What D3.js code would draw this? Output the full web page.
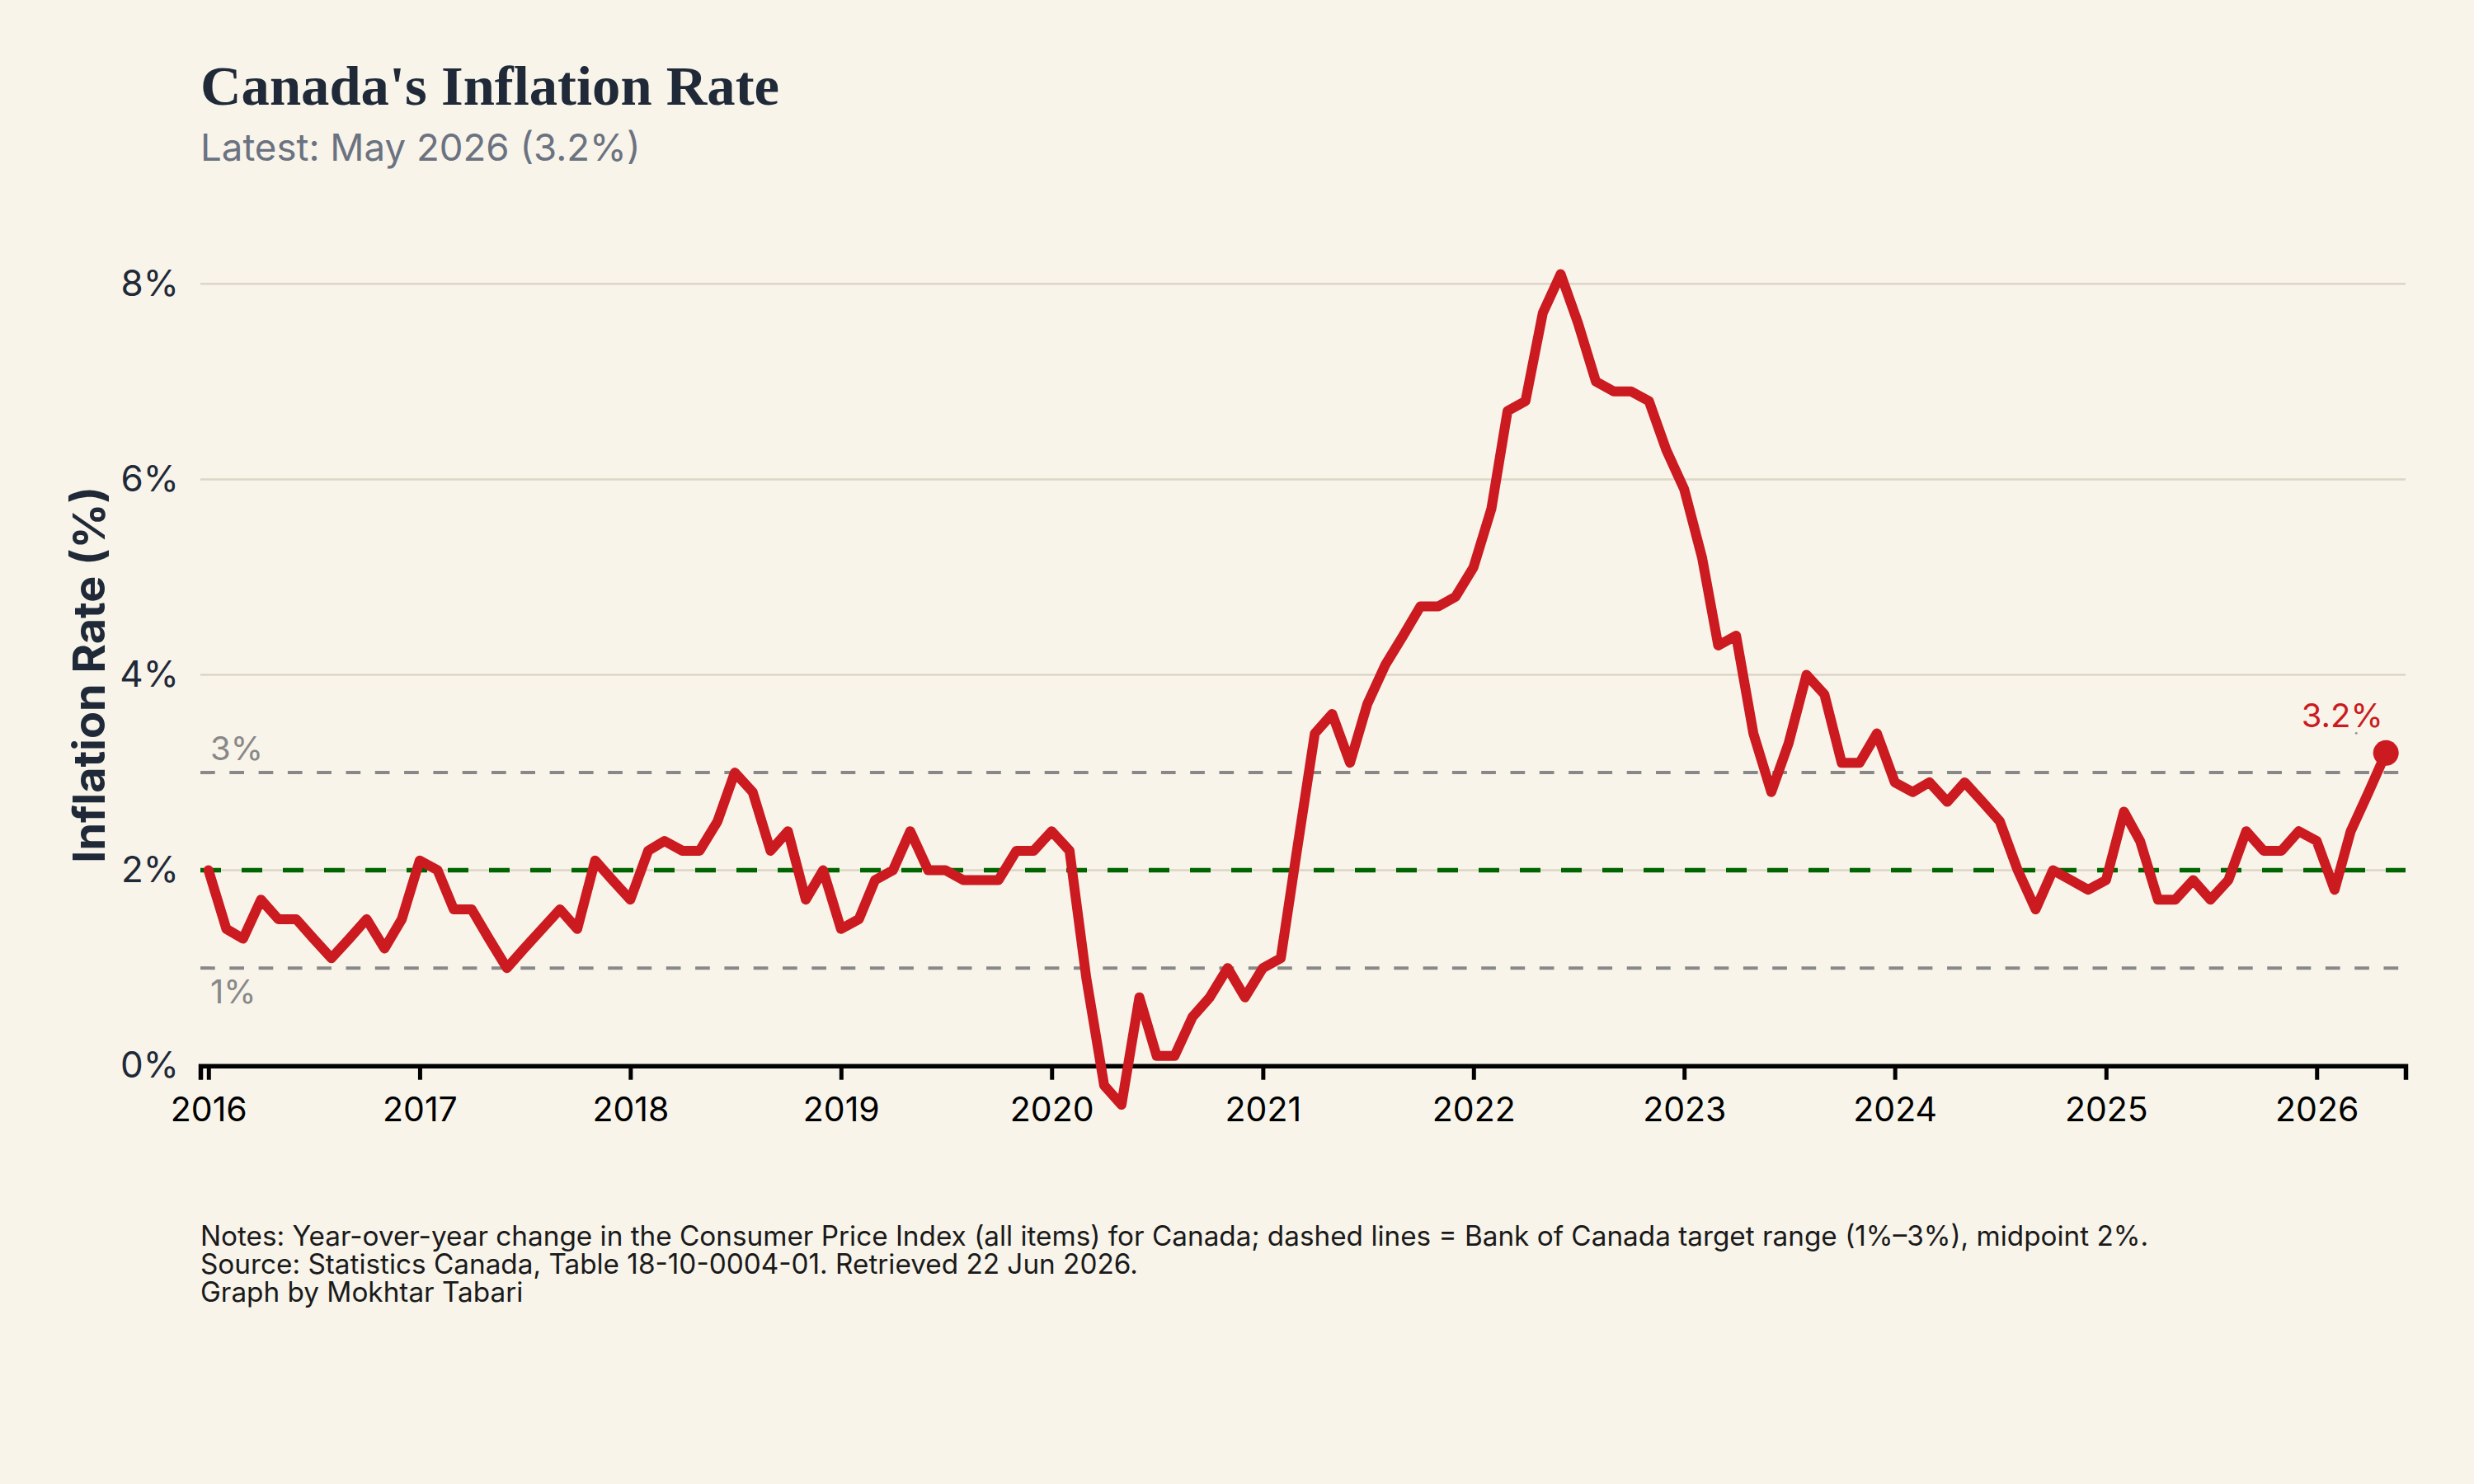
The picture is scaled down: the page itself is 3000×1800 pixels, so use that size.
<!DOCTYPE html>
<html>
<head>
<meta charset="utf-8">
<script src="https://cdn.jsdelivr.net/npm/d3@7"></script>
<style>
  html, body { margin: 0; padding: 0; background: #f8f4ea; }
  svg { display: block; font-family: Inter, "Noto Sans", sans-serif; }
</style>
</head>
<body>
<svg id="chart"></svg>
<script>
// Canada CPI, year-over-year % change, monthly values starting Jan of each year
const rates2016 = [2.0, 1.4, 1.3, 1.7, 1.5, 1.5, 1.3, 1.1, 1.3, 1.5, 1.2, 1.5];
const rates2017 = [2.1, 2.0, 1.6, 1.6, 1.3, 1.0, 1.2, 1.4, 1.6, 1.4, 2.1, 1.9];
const rates2018 = [1.7, 2.2, 2.3, 2.2, 2.2, 2.5, 3.0, 2.8, 2.2, 2.4, 1.7, 2.0];
const rates2019 = [1.4, 1.5, 1.9, 2.0, 2.4, 2.0, 2.0, 1.9, 1.9, 1.9, 2.2, 2.2];
const rates2020 = [2.4, 2.2, 0.9, -0.2, -0.4, 0.7, 0.1, 0.1, 0.5, 0.7, 1.0, 0.7];
const rates2021 = [1.0, 1.1, 2.2, 3.4, 3.6, 3.1, 3.7, 4.1, 4.4, 4.7, 4.7, 4.8];
const rates2022 = [5.1, 5.7, 6.7, 6.8, 7.7, 8.1, 7.6, 7.0, 6.9, 6.9, 6.8, 6.3];
const rates2023 = [5.9, 5.2, 4.3, 4.4, 3.4, 2.8, 3.3, 4.0, 3.8, 3.1, 3.1, 3.4];
const rates2024 = [2.9, 2.8, 2.9, 2.7, 2.9, 2.7, 2.5, 2.0, 1.6, 2.0, 1.9, 1.8];
const rates2025 = [1.9, 2.6, 2.3, 1.7, 1.7, 1.9, 1.7, 1.9, 2.4, 2.2, 2.2, 2.4];
const rates2026 = [2.3, 1.8, 2.4, 2.8, 3.2];

const firstYear = 2016;
const yTicks = [0, 2, 4, 6, 8];
const targetBand = [1, 3];
const targetMid = 2;

const titleText = "Canada's Inflation Rate";
const subtitleText = "Latest: May 2026 (3.2%)";
const yLabelText = "Inflation Rate (%)";
const noteLines = [
  "Notes: Year-over-year change in the Consumer Price Index (all items) for Canada; dashed lines = Bank of Canada target range (1%\u20133%), midpoint 2%.",
  "Source: Statistics Canada, Table 18-10-0004-01. Retrieved 22 Jun 2026.",
  "Graph by Mokhtar Tabari"
];

const W = 3000;
const H = 1800;
const red = "#cb1a20";

const data = [rates2016, rates2017, rates2018, rates2019, rates2020, rates2021,
  rates2022, rates2023, rates2024, rates2025, rates2026]
  .flat()
  .map((v, i) => ({ date: new Date(firstYear, i, 1), value: v }));

const svg = d3.select("#chart").attr("width", W).attr("height", H);

svg.append("rect").attr("width", W).attr("height", H).attr("fill", "#f8f4ea");

const x = d3.scaleTime()
  .domain([new Date(2015, 11, 18), new Date(2026, 5, 4)])
  .range([243, 2917]);
const y = d3.scaleLinear().domain([0, 8]).range([1292.7, 344.3]);

// gridlines
svg.append("g")
  .selectAll("line")
  .data(yTicks)
  .join("line")
  .attr("x1", x.range()[0])
  .attr("x2", x.range()[1])
  .attr("y1", (d) => y(d))
  .attr("y2", (d) => y(d))
  .attr("stroke", "#ddd5c6")
  .attr("stroke-width", 2.5);

// target range
svg.append("g")
  .selectAll("line")
  .data(targetBand)
  .join("line")
  .attr("x1", x.range()[0])
  .attr("x2", x.range()[1])
  .attr("y1", (d) => y(d))
  .attr("y2", (d) => y(d))
  .attr("stroke", "#888888")
  .attr("stroke-width", 4)
  .attr("stroke-dasharray", "17.7,17.6");

svg.append("line")
  .attr("x1", x.range()[0])
  .attr("x2", x.range()[1])
  .attr("y1", y(targetMid))
  .attr("y2", y(targetMid))
  .attr("stroke", "#006400")
  .attr("stroke-width", 5.5)
  .attr("stroke-dasharray", "25,25");

svg.append("text")
  .attr("x", x.range()[0] + 12)
  .attr("y", y(targetBand[1]) - 15)
  .attr("font-size", 40)
  .attr("fill", "#888888")
  .text(targetBand[1] + "%");

svg.append("text")
  .attr("x", x.range()[0] + 12)
  .attr("y", y(targetBand[0]) + 43)
  .attr("font-size", 40)
  .attr("fill", "#888888")
  .text(targetBand[0] + "%");

// x axis
const xAxis = svg.append("g")
  .attr("transform", `translate(0,${y(0)})`)
  .call(
    d3.axisBottom(x)
      .ticks(d3.timeYear.every(1))
      .tickFormat(d3.timeFormat("%Y"))
      .tickSizeOuter(0)
      .tickSize(17)
      .tickPadding(21)
  );
xAxis.select(".domain").attr("stroke", "#000").attr("stroke-width", 5.5);
xAxis.selectAll(".tick line").attr("stroke", "#000").attr("stroke-width", 5);
xAxis.selectAll(".tick text")
  .attr("font-size", 41)
  .attr("font-family", "Inter")
  .attr("fill", "#000");

// y axis labels
const yAxis = svg.append("g")
  .attr("transform", `translate(${x.range()[0]},0)`)
  .call(
    d3.axisLeft(y)
      .tickValues(yTicks)
      .tickFormat((d) => d + "%")
      .tickSize(0)
      .tickPadding(26)
  );
yAxis.select(".domain").remove();
yAxis.selectAll(".tick text")
  .attr("font-size", 44)
  .attr("font-family", "Inter")
  .attr("fill", "#1f2937");

// series line
const line = d3.line()
  .x((d) => x(d.date))
  .y((d) => y(d.value));

svg.append("path")
  .datum(data)
  .attr("d", line)
  .attr("fill", "none")
  .attr("stroke", red)
  .attr("stroke-width", 12)
  .attr("stroke-linejoin", "round")
  .attr("stroke-linecap", "round");

const last = data[data.length - 1];

svg.append("circle")
  .attr("cx", x(last.date))
  .attr("cy", y(last.value))
  .attr("r", 15.5)
  .attr("fill", red);

svg.append("circle")
  .attr("cx", x(last.date) - 36)
  .attr("cy", y(last.value) - 24)
  .attr("r", 1.5)
  .attr("fill", "#999");

svg.append("text")
  .attr("x", x(last.date) - 53)
  .attr("y", y(last.value) - 31)
  .attr("text-anchor", "middle")
  .attr("font-size", 40)
  .attr("fill", red)
  .text(last.value.toFixed(1) + "%");

// titles
svg.append("text")
  .attr("x", 243)
  .attr("y", 127)
  .style("font-family", "'Liberation Serif', 'DejaVu Serif', serif")
  .attr("font-weight", 700)
  .attr("font-size", 68)
  .attr("fill", "#1f2937")
  .attr("textLength", 702)
  .attr("lengthAdjust", "spacingAndGlyphs")
  .text(titleText);

svg.append("text")
  .attr("x", 243)
  .attr("y", 195)
  .attr("font-size", 45.6)
  .attr("fill", "#6b7280")
  .text(subtitleText);

svg.append("text")
  .attr("transform", `translate(127,${(y(0) + y(8)) / 2}) rotate(-90)`)
  .attr("text-anchor", "middle")
  .attr("font-size", 54)
  .attr("font-weight", 700)
  .attr("fill", "#1f2937")
  .text(yLabelText);

// notes
svg.append("g")
  .selectAll("text")
  .data(noteLines)
  .join("text")
  .attr("x", 243)
  .attr("y", (d, i) => 1511 + i * 34)
  .attr("font-size", 33.3)
  .attr("fill", "#1a1a1a")
  .text((d) => d);
</script>
</body>
</html>
